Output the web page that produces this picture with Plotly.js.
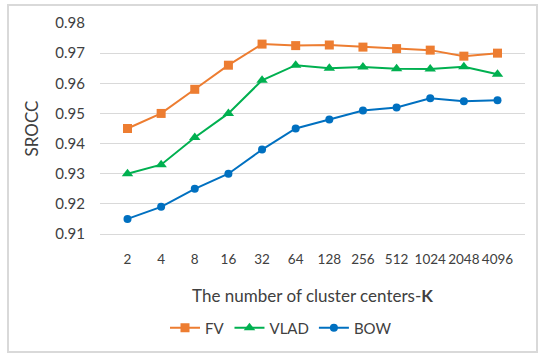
<!DOCTYPE html>
<html><head><meta charset="utf-8">
<script src="https://cdn.plot.ly/plotly-3.0.1.min.js"></script>
<style>html,body{margin:0;padding:0;background:#fff}#chart{width:550px;height:363px}</style>
</head><body><div id="chart"></div>
<script>
const categories = ["2","4","8","16","32","64","128","256","512","1024","2048","4096"];
const fvValues   = [0.945,0.950,0.958,0.966,0.973,0.9725,0.9727,0.972,0.9715,0.971,0.969,0.970];
const vladValues = [0.930,0.933,0.942,0.950,0.961,0.966,0.965,0.9654,0.9648,0.9647,0.9655,0.963];
const bowValues  = [0.915,0.919,0.925,0.930,0.938,0.945,0.948,0.951,0.952,0.955,0.954,0.9544];
const yTicks = [0.91,0.92,0.93,0.94,0.95,0.96,0.97,0.98];

const W=550,H=363,L=100,R=25,T=23,B=129;
const pw=W-L-R, ph=H-T-B;
const px = v => (v-L)/pw, py = v => (H-B-v)/ph;

const traces = [
 {x:categories,y:fvValues,name:'FV',mode:'lines+markers',line:{color:'#ED7D31',width:2},marker:{symbol:'square',size:9,color:'#ED7D31'}},
 {x:categories,y:vladValues,name:'VLAD',mode:'lines+markers',line:{color:'#00B050',width:2},marker:{symbol:'triangle-up',size:10,color:'#00B050'}},
 {x:categories,y:bowValues,name:'BOW',mode:'lines+markers',line:{color:'#0070C0',width:2},marker:{symbol:'circle',size:8,color:'#0070C0'}}
];
const font = {family:'Lato, Carlito, "Open Sans", sans-serif', color:'#404040'};
const layout = {
 width:W,height:H,margin:{l:L,r:R,t:T,b:B},
 paper_bgcolor:'#fff',plot_bgcolor:'#fff',
 font:Object.assign({size:15},font),
 showlegend:true,
 legend:{orientation:'h',x:px(165),xanchor:'left',y:py(328),yanchor:'middle',font:Object.assign({size:15},font),tracegroupgap:0},
 xaxis:{type:'category',categoryorder:'array',categoryarray:categories,showgrid:false,zeroline:false,showline:true,linecolor:'#D9D9D9',linewidth:1,ticks:'',ticklabelstandoff:13,tickangle:0,
   tickfont:Object.assign({size:13.5},font),
   title:{text:'The number of cluster centers-<b>K</b>',font:Object.assign({size:17},font),standoff:23}},
 yaxis:{range:[0.91,0.98],tickvals:yTicks,tickformat:'.2f',showgrid:true,gridcolor:'#D9D9D9',gridwidth:1,zeroline:false,showline:false,ticks:'',ticklabelstandoff:14,
   tickfont:Object.assign({size:15},font),
   title:{text:'SROCC',font:Object.assign({size:17},font),standoff:12}},
 shapes:[{type:'rect',xref:'paper',yref:'paper',x0:px(8),x1:px(537),y0:py(352),y1:py(5),line:{color:'#D9D9D9',width:2},layer:'below'}]
};
Plotly.newPlot('chart',traces,layout,{displayModeBar:false,staticPlot:true});
</script></body></html>
